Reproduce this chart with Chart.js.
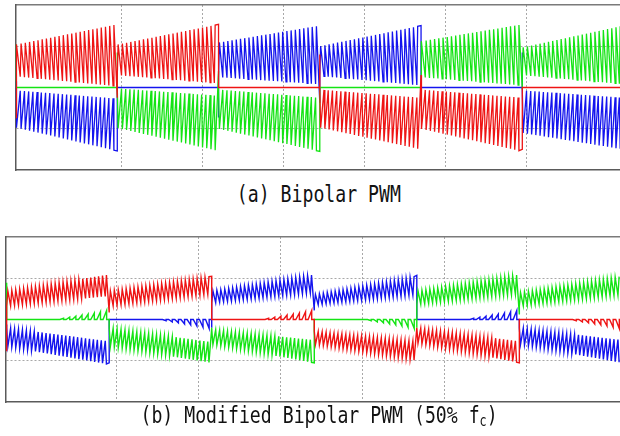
<!DOCTYPE html>
<html><head><meta charset="utf-8">
<script src="https://cdn.jsdelivr.net/npm/chart.js@4"></script>
<style>
html,body{margin:0;padding:0;background:#fff;width:620px;height:436px;overflow:hidden;}
.wrap{position:absolute;left:0;width:620px;height:172px;}
.cap{position:absolute;left:0;width:638px;text-align:center;font-family:"DejaVu Sans Mono",monospace;font-size:23px;line-height:23px;color:#111;white-space:nowrap;}
.cap span{display:inline-block;transform:scaleX(0.79);transform-origin:50% 50%;}
.cap sub{font-size:15px;vertical-align:-3px;line-height:0;}
</style></head><body>
<div class="wrap" style="top:0"><canvas id="ca" width="620" height="172"></canvas></div>
<div class="cap" style="top:183px"><span>(a) Bipolar PWM</span></div>
<div class="wrap" style="top:232px"><canvas id="cb" width="620" height="172"></canvas></div>
<div class="cap" style="top:404px"><span>(b) Modified Bipolar PWM (50% f<sub>c</sub>)</span></div>
<script>
// ---------- shared ----------
const phaseColors = { R: 'rgb(238,20,20)', G: 'rgb(20,228,20)', B: 'rgb(20,20,238)' };
const yTicks = [-1, 1];

// ---------- panel (a) Bipolar PWM ----------
const segStartA = [-0.296, 0.954, 2.204, 3.454, 4.704, 5.954];
const segLenA = 1.25;
const teethA = 24;
const posPhaseA = ['R', 'R', 'B', 'B', 'G', 'G'];
const negPhaseA = ['B', 'G', 'G', 'R', 'R', 'B'];
const zeroPhaseA = ['G', 'B', 'R', 'G', 'B', 'R'];
const posTopA = [[1.04, 1.53], [1.04, 1.53], [1.09, 1.50], [1.00, 1.50], [1.12, 1.53], [0.97, 1.50]];
const posBotA = [[0.27, 0.03], [0.30, 0.10], [0.25, 0.08], [0.28, 0.05], [0.25, 0.05], [0.30, 0.08]];
const negTopA = [[-0.07, -0.27], [-0.02, -0.20], [-0.05, -0.25], [-0.05, -0.25], [-0.05, -0.25], [-0.07, -0.25]];
const negBotA = [[-0.97, -1.54], [-0.98, -1.54], [-1.00, -1.55], [-0.97, -1.50], [-1.00, -1.55], [-1.10, -1.50]];
const exitA = [1.04, -1.54, 1.53, -1.55, 1.50, -1.50];
const entryPosA = [-0.73, -0.25, -0.73, -0.37, -0.45, -0.05];
const entryNegA = [0.15, 0.85, 0.40, 0.80, 0.30, 0.85];

// ---------- panel (b) Modified Bipolar PWM (50% fc) ----------
const segStartB = [-0.337, 0.913, 2.163, 3.413, 4.663, 5.913];
const segLenB = 1.25;
const teethB = 26;
const posPhaseB = ['R', 'R', 'B', 'B', 'G', 'G'];
const negPhaseB = ['B', 'G', 'G', 'R', 'R', 'B'];
const zeroPhaseB = ['G', 'B', 'R', 'G', 'B', 'R'];
const posTopB = [[0.69, 1.09], [0.69, 1.05], [0.69, 1.09], [0.60, 1.05], [0.69, 1.09], [0.65, 1.05]];
const posBotB = [[0.32, 0.57], [0.32, 0.62], [0.40, 0.65], [0.35, 0.60], [0.36, 0.62], [0.32, 0.60]];
const negTopB = [[-0.20, -0.53], [-0.20, -0.55], [-0.24, -0.50], [-0.28, -0.53], [-0.20, -0.53], [-0.20, -0.50]];
const negBotB = [[-0.65, -1.09], [-0.65, -1.05], [-0.60, -1.05], [-0.60, -1.00], [-0.57, -1.05], [-0.60, -1.05]];
const exitB = [0.89, -1.05, 1.05, -1.05, 1.07, -1.05];
const entryPosB = [-0.77, 0.17, -0.20, 0.22, -0.20, 0.12];
const entryNegB = [-0.12, 0.00, -0.20, 0.00, -0.20, 0.00];
const spikeFracB = [0.52, 0.58, 0.64, 0.70, 0.76, 0.82, 0.88, 0.94];
const spikeHtB = [0.03, 0.06, 0.08, 0.11, 0.13, 0.16, 0.19, 0.22];
const spikeSignB = [1, -1, 1, -1, 1, -1];

function buildPanel(p) {
  const out = { R: [], G: [], B: [] };
  const env = (a, f) => a[0] + (a[1] - a[0]) * f;
  for (let s = 0; s < p.starts.length; s++) {
    const x0 = p.starts[s], L = p.len, n = p.teeth;
    const P = out[p.pos[s]], N = out[p.neg[s]], Z = out[p.zero[s]];
    Z.push({ x: x0, y: p.exit[s] }, { x: x0, y: 0 });
    P.push({ x: x0, y: p.entryPos[s] });
    N.push({ x: x0, y: p.entryNeg[s] });
    for (let k = 0; k < n; k++) {
      const fa = k / n, fb = (k + p.rise) / n;
      P.push({ x: x0 + fa * L, y: env(p.posBot[s], fa) }, { x: x0 + fb * L, y: env(p.posTop[s], fb) });
      N.push({ x: x0 + fa * L, y: env(p.negTop[s], fa) }, { x: x0 + fb * L, y: env(p.negBot[s], fb) });
    }
    if (p.spikeFrac) {
      p.spikeFrac.forEach((sf, i) => {
        const xs = x0 + sf * L, xe = x0 + (sf + 0.035) * L;
        Z.push({ x: xs, y: 0 }, { x: xe, y: p.spikeSign[s] * p.spikeHt[i] }, { x: xe, y: 0 });
      });
    }
    Z.push({ x: x0 + L, y: 0 });
  }
  return out;
}

const dataA = buildPanel({ starts: segStartA, len: segLenA, teeth: teethA, rise: 0.2,
  pos: posPhaseA, neg: negPhaseA, zero: zeroPhaseA,
  posTop: posTopA, posBot: posBotA, negTop: negTopA, negBot: negBotA,
  exit: exitA, entryPos: entryPosA, entryNeg: entryNegA });
const dataB = buildPanel({ starts: segStartB, len: segLenB, teeth: teethB, rise: 0.3,
  pos: posPhaseB, neg: negPhaseB, zero: zeroPhaseB,
  posTop: posTopB, posBot: posBotB, negTop: negTopB, negBot: negBotB,
  exit: exitB, entryPos: entryPosB, entryNeg: entryNegB,
  spikeFrac: spikeFracB, spikeHt: spikeHtB, spikeSign: spikeSignB });

function makeChart(id, d, xMin, xMax, padLeft, lw) {
  const keepInner = (lo, hi) => s => {
    s.ticks = s.ticks.filter(t => Math.abs(t.value - Math.round(t.value)) < 1e-6 && t.value > lo + 0.01 && t.value < hi - 0.01);
  };
  const gridOpts = { color: '#a8a8a8', lineWidth: 1, drawTicks: false };
  new Chart(document.getElementById(id), {
    type: 'line',
    data: {
      datasets: ['R', 'G', 'B'].map(k => ({
        data: d[k], borderColor: phaseColors[k], borderWidth: lw, pointRadius: 0, tension: 0, fill: false
      }))
    },
    options: {
      responsive: false, animation: false, events: [], parsing: false, normalized: true,
      layout: { padding: { left: padLeft, right: 0, top: 5, bottom: 2 } },
      plugins: { legend: { display: false }, tooltip: { enabled: false }, title: { display: false } },
      scales: {
        x: { type: 'linear', min: xMin, max: xMax, position: 'bottom',
          ticks: { display: false, stepSize: 1 }, afterBuildTicks: keepInner(xMin, xMax),
          grid: gridOpts, border: { display: true, color: '#5a5a5a', width: 1.5, dash: [2, 2] },
          afterFit: s => { s.height = 0; } },
        xTop: { type: 'linear', min: xMin, max: xMax, position: 'top',
          ticks: { display: false }, grid: { display: false, drawTicks: false },
          border: { display: true, color: '#7a7a7a', width: 1.5 },
          afterFit: s => { s.height = 0; } },
        y: { type: 'linear', min: -2, max: 2, position: 'left',
          ticks: { display: false, stepSize: 1 }, afterBuildTicks: s => { s.ticks = yTicks.map(v => ({ value: v })); },
          grid: gridOpts, border: { display: true, color: '#5a5a5a', width: 1.5, dash: [2, 2] },
          afterFit: s => { s.width = 0; } }
      }
    }
  });
}

makeChart('ca', dataA, -0.30, 7.16, 15.7, 1.3);
makeChart('cb', dataB, -0.345, 7.14, 6, 1.4);
</script>
</body></html>
